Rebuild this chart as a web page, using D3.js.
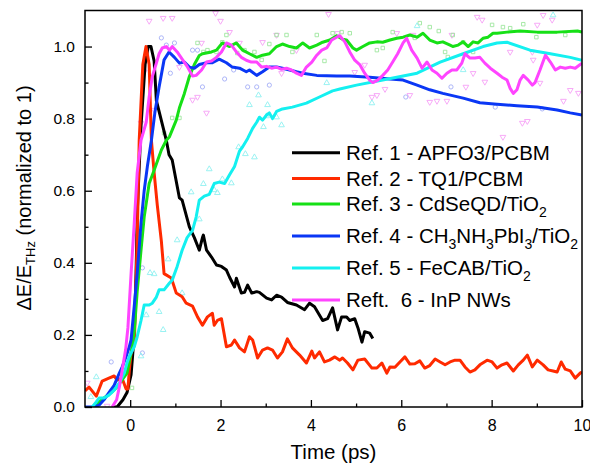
<!DOCTYPE html>
<html>
<head>
<meta charset="utf-8">
<script src="https://cdn.jsdelivr.net/npm/d3@7"></script>
<style>
  body { margin: 0; background: #fff; }
  svg { font-family: "Liberation Sans", Arial, sans-serif; }
</style>
</head>
<body>
<div id="chart"></div>
<script>
// =============================
// DATA (time in ps, normalized dE/E)
// =============================
const ref1 = [[-0.4,0],[-0.29,0],[-0.16,0.02],[-0.07,0.04],[0.02,0.09],[0.09,0.2],[0.13,0.37],[0.16,0.55],[0.24,0.78],[0.33,0.95],[0.4,1.0],[0.46,1.0],[0.53,0.96],[0.58,0.85],[0.8,0.74],[0.86,0.70],[0.93,0.685],[1.09,0.58],[1.15,0.574],[1.31,0.50],[1.42,0.47],[1.53,0.435],[1.6,0.47],[1.62,0.477],[1.69,0.435],[1.8,0.416],[1.91,0.394],[2.02,0.39],[2.13,0.38],[2.2,0.36],[2.31,0.333],[2.35,0.357],[2.46,0.316],[2.53,0.318],[2.6,0.338],[2.69,0.316],[2.8,0.32],[2.86,0.318],[3.02,0.302],[3.13,0.297],[3.24,0.31],[3.35,0.305],[3.48,0.29],[3.68,0.283],[3.86,0.27],[3.97,0.288],[4.08,0.278],[4.26,0.24],[4.37,0.245],[4.48,0.275],[4.59,0.214],[4.68,0.25],[4.79,0.25],[4.86,0.24],[4.97,0.245],[5.04,0.22],[5.13,0.18],[5.19,0.209],[5.3,0.205],[5.37,0.19]];

const ref2 = [[-1,0.045],[-0.91,0.055],[-0.75,0.03],[-0.62,0.072],[-0.47,0.08],[-0.355,0.086],[-0.29,0.075],[-0.18,0.08],[-0.09,0.05],[-0.05,0.05],[-0.02,0.1],[0.02,0.15],[0.09,0.17],[0.155,0.46],[0.2,0.74],[0.28,0.95],[0.35,1.0],[0.42,0.95],[0.47,0.74],[0.53,0.65],[0.6,0.56],[0.69,0.46],[0.75,0.37],[0.91,0.358],[1.02,0.316],[1.15,0.306],[1.24,0.288],[1.38,0.28],[1.49,0.25],[1.6,0.227],[1.71,0.25],[1.82,0.26],[1.86,0.227],[1.93,0.24],[2.02,0.245],[2.13,0.167],[2.24,0.172],[2.31,0.186],[2.42,0.164],[2.53,0.153],[2.64,0.195],[2.71,0.186],[2.82,0.136],[2.93,0.158],[3.04,0.164],[3.15,0.158],[3.26,0.136],[3.37,0.153],[3.48,0.189],[3.59,0.164],[3.75,0.144],[3.9,0.122],[4.02,0.155],[4.08,0.136],[4.19,0.153],[4.3,0.125],[4.41,0.13],[4.53,0.139],[4.64,0.13],[4.7,0.136],[4.81,0.122],[4.93,0.103],[5.04,0.13],[5.19,0.133],[5.35,0.108],[5.46,0.108],[5.57,0.122],[5.68,0.094],[5.75,0.111],[5.86,0.11],[5.97,0.125],[6.08,0.139],[6.19,0.119],[6.3,0.12],[6.41,0.128],[6.52,0.108],[6.63,0.115],[6.75,0.133],[6.86,0.125],[6.97,0.117],[7.08,0.125],[7.19,0.13],[7.3,0.13],[7.41,0.111],[7.52,0.097],[7.63,0.103],[7.74,0.117],[7.9,0.13],[8.01,0.125],[8.12,0.108],[8.23,0.117],[8.34,0.122],[8.48,0.1],[8.59,0.117],[8.7,0.13],[8.79,0.144],[8.9,0.111],[9.01,0.13],[9.14,0.117],[9.25,0.103],[9.36,0.1],[9.45,0.097],[9.54,0.125],[9.63,0.105],[9.74,0.1],[9.85,0.08],[9.96,0.094],[10,0.097]];

const ref3 = [[-0.8,0],[-0.73,0.01],[-0.58,0.025],[-0.42,0.04],[-0.29,0.056],[-0.18,0.075],[-0.07,0.094],[0.02,0.15],[0.09,0.21],[0.155,0.32],[0.24,0.435],[0.31,0.527],[0.42,0.62],[0.53,0.657],[0.69,0.713],[0.8,0.74],[0.87,0.75],[1.02,0.796],[1.09,0.83],[1.2,0.87],[1.31,0.917],[1.42,0.95],[1.53,0.975],[1.6,0.98],[1.8,0.985],[1.91,0.99],[2.04,1.01],[2.2,1.0],[2.35,1.01],[2.49,0.99],[2.64,0.98],[2.8,0.97],[2.93,0.976],[3.08,0.98],[3.24,1.0],[3.37,1.007],[3.53,1.0],[3.68,0.996],[3.82,1.01],[3.97,0.996],[4.13,1.004],[4.26,1.012],[4.42,1.018],[4.57,1.03],[4.7,1.02],[4.79,1.018],[4.93,0.996],[5.01,0.99],[5.15,1.0],[5.3,1.01],[5.46,1.013],[5.59,1.012],[5.75,1.018],[5.9,1.023],[6.04,1.026],[6.19,1.032],[6.35,1.026],[6.48,1.037],[6.63,1.018],[6.79,1.01],[6.92,1.013],[7.08,1.004],[7.14,1.0],[7.26,1.004],[7.37,1.013],[7.48,1.0],[7.59,1.013],[7.7,1.01],[7.81,1.023],[7.92,1.026],[8.03,1.037],[8.12,1.037],[8.34,1.04],[8.63,1.043],[9.01,1.04],[9.45,1.04],[9.9,1.043],[10,1.04]];

const ref4 = [[-1,0],[-0.8,0],[-0.69,0.005],[-0.58,0.02],[-0.47,0.04],[-0.355,0.06],[-0.24,0.094],[-0.18,0.11],[-0.09,0.14],[-0.02,0.167],[0.02,0.186],[0.09,0.28],[0.155,0.37],[0.24,0.51],[0.31,0.6],[0.38,0.667],[0.47,0.74],[0.55,0.82],[0.64,0.888],[0.75,0.963],[0.86,0.985],[0.98,0.97],[1.09,0.954],[1.2,0.957],[1.31,0.943],[1.42,0.94],[1.53,0.95],[1.69,0.955],[1.82,0.955],[1.97,0.965],[2.13,0.955],[2.26,0.943],[2.42,0.94],[2.57,0.93],[2.64,0.935],[2.8,0.92],[2.93,0.93],[3.08,0.943],[3.24,0.943],[3.37,0.94],[3.53,0.935],[3.68,0.93],[3.82,0.926],[4.13,0.92],[4.57,0.918],[4.86,0.918],[5.3,0.915],[5.75,0.91],[6.04,0.907],[6.35,0.893],[6.63,0.88],[6.92,0.87],[7.37,0.857],[7.74,0.844],[8.12,0.84],[8.56,0.836],[9.01,0.832],[9.45,0.824],[9.74,0.816],[10,0.81]];

const ref5 = [[-0.84,0],[-0.75,0.014],[-0.69,0.025],[-0.58,0.025],[-0.47,0.033],[-0.355,0.047],[-0.24,0.067],[-0.13,0.094],[-0.07,0.122],[-0.02,0.14],[0.09,0.167],[0.155,0.195],[0.24,0.24],[0.31,0.283],[0.42,0.283],[0.49,0.288],[0.58,0.305],[0.64,0.325],[0.75,0.325],[0.87,0.344],[0.93,0.352],[1.04,0.39],[1.15,0.435],[1.26,0.47],[1.38,0.49],[1.46,0.527],[1.53,0.574],[1.64,0.585],[1.75,0.59],[1.86,0.62],[1.97,0.624],[2.09,0.62],[2.2,0.644],[2.31,0.667],[2.42,0.71],[2.49,0.722],[2.6,0.745],[2.71,0.773],[2.8,0.79],[2.86,0.804],[2.93,0.796],[3.02,0.81],[3.08,0.816],[3.15,0.8],[3.24,0.82],[3.37,0.827],[3.59,0.832],[3.9,0.843],[4.19,0.86],[4.48,0.877],[4.64,0.882],[5.01,0.893],[5.59,0.907],[6.35,0.926],[6.86,0.957],[7.37,0.98],[7.81,1.0],[8.12,1.01],[8.34,1.012],[8.85,0.99],[9.3,0.98],[9.74,0.97],[10,0.962]];

const ref6 = [[-0.4,0],[-0.3,0.02],[-0.24,0.055],[-0.18,0.1],[-0.1,0.16],[-0.05,0.22],[0.02,0.37],[0.09,0.51],[0.155,0.65],[0.24,0.74],[0.355,0.79],[0.42,0.86],[0.49,0.917],[0.58,0.954],[0.64,0.98],[0.71,0.996],[0.8,1.0],[0.87,0.99],[0.93,1.0],[1.04,0.985],[1.15,0.965],[1.26,0.945],[1.38,0.918],[1.46,0.92],[1.58,0.935],[1.69,0.957],[1.8,0.96],[1.91,0.97],[2.02,0.985],[2.13,1.01],[2.24,1.004],[2.35,0.985],[2.46,0.97],[2.57,0.962],[2.68,0.957],[2.8,0.957],[2.91,0.943],[3.02,0.945],[3.13,0.94],[3.24,0.943],[3.35,0.937],[3.46,0.94],[3.57,0.935],[3.68,0.926],[3.79,0.92],[3.9,0.943],[4.02,0.957],[4.13,0.976],[4.24,0.99],[4.35,0.996],[4.46,1.018],[4.57,1.026],[4.64,1.03],[4.75,1.013],[4.86,0.985],[4.97,0.962],[5.08,0.95],[5.19,0.926],[5.3,0.907],[5.37,0.9],[5.48,0.907],[5.59,0.92],[5.7,0.935],[5.81,0.957],[5.92,0.98],[6.04,1.01],[6.12,1.023],[6.23,0.99],[6.35,0.968],[6.46,0.94],[6.57,0.957],[6.68,0.935],[6.79,0.926],[6.9,0.912],[7.01,0.926],[7.12,0.935],[7.23,0.935],[7.34,0.954],[7.41,0.98],[7.52,0.968],[7.63,0.968],[7.74,0.97],[7.85,0.954],[7.97,0.94],[8.12,0.926],[8.23,0.915],[8.34,0.907],[8.41,0.884],[8.48,0.87],[8.56,0.88],[8.63,0.907],[8.7,0.92],[8.81,0.907],[8.9,0.893],[8.96,0.9],[9.07,0.935],[9.19,0.976],[9.3,0.957],[9.41,0.935],[9.52,0.943],[9.63,0.94],[9.74,0.943],[9.85,0.94],[9.96,0.95],[10,0.954]];

// raw (unsmoothed) points shown as faint markers
const raw6 = [[0.42,1.071],[0.93,1.079],[1.89,1.093],[2.0,1.071],[2.2,1.04],[1.58,1.01],[0.53,0.824],[1.09,0.943],[1.49,0.86],[1.69,0.816],[2.42,1.01],[2.93,1.012],[3.24,1.032],[3.35,0.926],[3.68,0.99],[4.39,1.09],[4.59,1.037],[0.73,1.079],[0.24,0.788],[0.31,0.93],[1.38,0.852],[5.9,1.037],[6.26,1.032],[7.12,1.032],[7.68,1.082],[7.79,1.074],[9.01,1.06],[9.34,1.074],[9.74,0.879],[9.92,0.871],[8.25,0.749],[8.68,0.788],[5.46,0.865],[5.35,0.86],[5.64,0.882],[6.63,0.846],[6.79,0.849],[6.19,0.865],[5.19,0.949],[4.97,0.929],[7.59,0.926],[7.85,0.902],[8.41,0.985],[9.14,1.087],[9.59,0.849],[8.92,0.963],[9.07,0.899],[7.01,0.849],[7.43,0.888],[8.9,0.985],[8.79,0.793],[-0.95,0.067],[-0.51,0.003]];
const raw4 = [[0.69,1.024],[0.98,1.01],[0.89,0.926],[1.38,0.99],[1.49,0.99],[1.6,0.888],[2.09,0.91],[2.29,0.935],[2.6,0.888],[2.8,0.888],[3.08,0.893],[6.1,0.86],[7.1,0.888],[8.08,0.832],[9.12,0.827],[-0.42,0.125],[0.27,0.386],[0.27,0.15],[0.8,1.004]];
const raw3 = [[2.13,1.032],[1.49,1.01],[1.62,0.985],[1.71,0.99],[1.91,0.985],[2.04,1.012],[2.37,0.982],[2.53,0.99],[2.75,0.985],[2.91,0.963],[3.08,1.007],[3.24,1.032],[3.46,1.032],[3.59,0.985],[4.13,1.032],[4.3,0.96],[0.93,0.802],[1.09,0.802],[0.75,0.76],[4.48,1.037],[4.68,1.04],[4.86,1.037],[5.46,0.99],[5.81,1.04],[6.3,1.024],[6.63,1.054],[6.97,0.985],[7.37,1.012],[7.59,0.985],[8.01,1.06],[8.25,1.054],[8.41,1.051],[8.7,1.062],[8.99,1.026],[6.41,1.065],[6.83,1.043],[7.14,1.032],[9.63,1.032],[5.59,0.996],[7.03,0.971],[-0.02,0.097],[0.04,0.053]];
const raw5 = [[1.75,0.66],[1.62,0.619],[1.35,0.596],[1.53,0.521],[1.04,0.463],[0.84,0.41],[0.44,0.372],[0.53,0.369],[1.15,0.316],[0.355,0.255],[0.64,0.264],[0.73,0.214],[0.24,0.141],[-0.75,0.083],[-0.87,0.028],[1.86,0.602],[1.93,0.594],[2.04,0.632],[2.24,0.621],[2.55,0.702],[2.75,0.693],[2.64,0.838],[2.84,0.865],[2.95,0.777],[3.04,0.838],[3.24,0.804],[3.35,0.782],[2.4,0.721],[3.02,0.807],[4.35,0.899],[6.35,1.057],[7.37,0.935],[9.36,1.087],[5.35,0.843]];

const legendLabels = [
  "Ref. 1 - APFO3/PCBM",
  "Ref. 2 - TQ1/PCBM",
  "Ref. 3 - CdSeQD/TiO_2",
  "Ref. 4 - CH_3NH_3PbI_3/TiO_2",
  "Ref. 5 - FeCAB/TiO_2",
  "Reft.  6 - InP NWs"
];
const seriesData = [ref1, ref2, ref3, ref4, ref5, ref6];

const xTicks = [0, 2, 4, 6, 8, 10];
const xMinor = [1, 3, 5, 7, 9];
const yTicks = [0, 0.2, 0.4, 0.6, 0.8, 1.0];
const yMinor = [0.1, 0.3, 0.5, 0.7, 0.9];

// =============================
// STYLE
// =============================
const colors = ["#000000", "#ff2a00", "#16e016", "#0a37f5", "#14f0f0", "#ff44ff"];
const rawSets = [
  { data: raw6, color: "#f6a0f6", shape: "down" },
  { data: raw4, color: "#a4aef6", shape: "circle" },
  { data: raw3, color: "#9ee69e", shape: "square" },
  { data: raw5, color: "#8ff0f0", shape: "up" }
];

const W = 590, H = 464;
const mLeft = 85, mRight = 582, mTop = 10.5, mBottom = 407;

const svg = d3.select("#chart").append("svg")
  .attr("width", W).attr("height", H);

const x = d3.scaleLinear().domain([-1, 10]).range([mLeft, mRight]);
const y = d3.scaleLinear().domain([0, 1.1]).range([mBottom, mTop]);

svg.append("clipPath").attr("id", "clip")
  .append("rect")
  .attr("x", mLeft).attr("y", mTop)
  .attr("width", mRight - mLeft).attr("height", mBottom - mTop);

const plot = svg.append("g").attr("clip-path", "url(#clip)");

// =============================
// RAW MARKERS
// =============================
rawSets.forEach(s => {
  let sym;
  if (s.shape === "circle") sym = d3.symbol().type(d3.symbolCircle).size(14);
  else if (s.shape === "square") sym = d3.symbol().type(d3.symbolSquare).size(12);
  else sym = d3.symbol().type(d3.symbolTriangle).size(14);
  plot.append("g").selectAll("path")
    .data(s.data)
    .enter().append("path")
    .attr("d", sym)
    .attr("transform", d => `translate(${x(d[0])},${y(d[1])})` + (s.shape === "down" ? " rotate(180)" : ""))
    .attr("fill", "none")
    .attr("stroke", s.color)
    .attr("stroke-width", 0.9);
});

// =============================
// LINES
// =============================
const line = d3.line().x(d => x(d[0])).y(d => y(d[1]));

seriesData.forEach((data, i) => {
  plot.append("path")
    .datum(data)
    .attr("d", line)
    .attr("fill", "none")
    .attr("stroke", colors[i])
    .attr("stroke-width", 3)
    .attr("stroke-linejoin", "round");
});

// =============================
// AXES
// =============================
const xAxis = svg.append("g")
  .attr("transform", `translate(0,${mBottom})`)
  .call(d3.axisBottom(x).tickValues(xTicks).tickSize(-7).tickPadding(13).tickFormat(d3.format("d")));
svg.append("g")
  .attr("transform", `translate(0,${mBottom})`)
  .call(d3.axisBottom(x).tickValues(xMinor).tickSize(-3.5).tickFormat(""));

const yAxis = svg.append("g")
  .attr("transform", `translate(${mLeft},0)`)
  .call(d3.axisLeft(y).tickValues(yTicks).tickSize(-7).tickPadding(10).tickFormat(d3.format(".1f")));
svg.append("g")
  .attr("transform", `translate(${mLeft},0)`)
  .call(d3.axisLeft(y).tickValues(yMinor).tickSize(-3.5).tickFormat(""));

svg.selectAll(".domain").remove();
svg.selectAll(".tick line").attr("stroke", "#000").attr("stroke-width", 1.3);
xAxis.selectAll("text").attr("font-size", 16).attr("fill", "#000")
  .attr("font-family", "Liberation Sans, Arial, sans-serif");
yAxis.selectAll("text").attr("font-size", 15.5).attr("fill", "#000")
  .attr("font-family", "Liberation Sans, Arial, sans-serif");

// frame
svg.append("rect")
  .attr("x", mLeft).attr("y", mTop)
  .attr("width", mRight - mLeft).attr("height", mBottom - mTop)
  .attr("fill", "none").attr("stroke", "#000").attr("stroke-width", 1.5);

// axis titles
svg.append("text")
  .attr("x", (mLeft + mRight) / 2).attr("y", 459)
  .attr("text-anchor", "middle")
  .attr("font-size", 20.5)
  .text("Time (ps)");

const yt = svg.append("text")
  .attr("transform", `translate(31,198) rotate(-90)`)
  .attr("text-anchor", "middle")
  .attr("font-size", 20);
yt.append("tspan").text("\u0394E/E");
yt.append("tspan").attr("font-size", 13).attr("dy", 4).text("THz");
yt.append("tspan").attr("dy", -4).text(" (normalized to 1)");

// =============================
// LEGEND
// =============================
function addLabel(sel, label) {
  const parts = label.split(/_(\d)/);
  let sub = false;
  parts.forEach((p, k) => {
    if (p === "") return;
    const isSub = k % 2 === 1;
    const t = sel.append("tspan").text(p);
    if (isSub) {
      t.attr("font-size", 14).attr("dy", sub ? 0 : 6);
      sub = true;
    } else if (sub) {
      t.attr("dy", -6);
      sub = false;
    }
  });
}

const legend = svg.append("g");
let ly = 152.7;
legendLabels.forEach((lab, i) => {
  if (i > 0) ly += legendLabels[i - 1].includes("_") ? 32 : 25.7;
  legend.append("line")
    .attr("x1", 292).attr("x2", 340)
    .attr("y1", ly).attr("y2", ly)
    .attr("stroke", colors[i]).attr("stroke-width", 3);
  const t = legend.append("text")
    .attr("x", 346).attr("y", ly + 7.3)
    .attr("font-size", 20.5)
    .attr("xml:space", "preserve")
    .style("white-space", "pre");
  addLabel(t, lab);
});
</script>
</body>
</html>
